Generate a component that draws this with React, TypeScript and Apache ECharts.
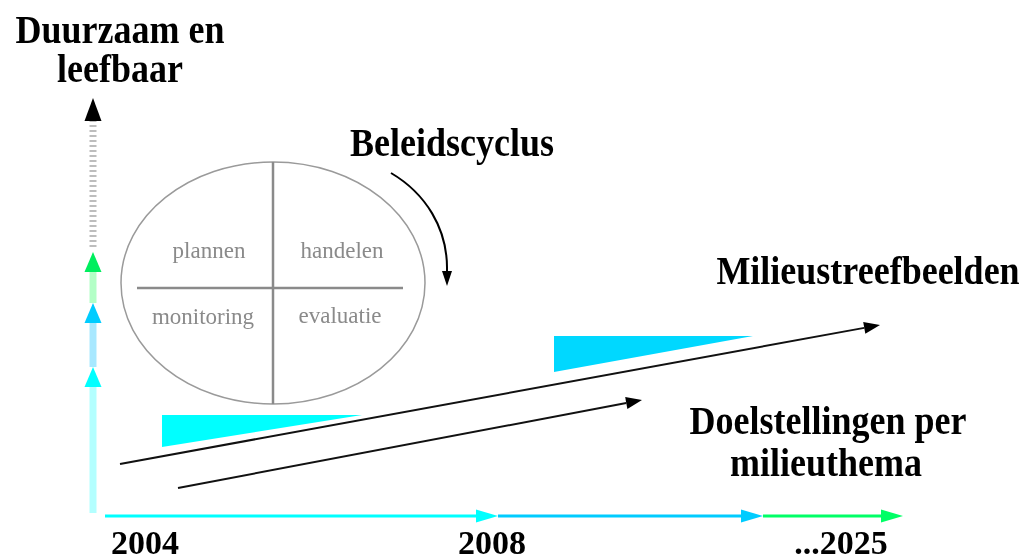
import React, { useEffect, useRef } from "react";
import * as echarts from "echarts";

// Diagram space (x 0..1024, y 0..560, y pointing down)
const xRange = [0, 1024];
const yRange = [0, 560];

// Time axis (horizontal) segments
const timeAxisY = 516;
const timeSegStart = [105, 498, 763];
const timeSegEnd = [498, 763, 903];
const timeSegColor = ["#00ffff", "#00ccff", "#00ff66"];
const timeLabels = ["2004", "2008", "...2025"];
const timeLabelX = [145, 492, 841];
const timeLabelY = 542;

// Vertical axis segments
const vAxisX = 93;
const vSegStart = [513, 367, 303, 247];
const vSegEnd = [367, 303, 252, 98];
const vSegBar = ["#b3ffff", "#a8e8ff", "#b3ffc6", "#bdbdbd"];
const vSegHead = ["#00ffff", "#00ccff", "#00ee5e", "#000000"];

// Trend arrows (Milieustreefbeelden / Doelstellingen)
const trendStart = [[120, 464], [178, 488]];
const trendEnd = [[880, 325], [642, 400]];

// Cyan wedges
const wedgePoints = [
  [[162, 415], [362, 415], [162, 447]],
  [[554, 336], [753, 336], [554, 372]],
];
const wedgeColor = ["#00ffff", "#00d8ff"];

// Policy cycle ellipse
const cycleCenter = [273, 283];
const cycleRadii = [152, 121];
const cycleQuadrants = ["plannen", "handelen", "monitoring", "evaluatie"];
const quadrantPos = [[209, 250], [342, 250], [203, 316], [340, 315]];

// Curved arrow along the cycle
const curvePts = [[391, 173], [425, 193], [448, 228], [447, 271]];
const curveTip = [447, 286];

// Labels
const headLabels = ["Duurzaam en", "leefbaar", "Beleidscyclus", "Milieustreefbeelden", "Doelstellingen per", "milieuthema"];
const headLabelPos = [[120, 29], [120, 68], [452, 142], [868, 270], [828, 420], [826, 462]];

type Arrow = { a: number[]; b: number[]; width: number; color: string; head: string; hl: number; hw: number; dash?: number[] };

const arrows: Arrow[] = [];
vSegStart.forEach((s, i) => {
  arrows.push({ a: [vAxisX, s], b: [vAxisX, vSegEnd[i]], width: 7, color: vSegBar[i], head: vSegHead[i], hl: i === 3 ? 23 : 20, hw: 8.5, dash: i === 3 ? [2, 3] : undefined });
});
timeSegStart.forEach((s, i) => {
  arrows.push({ a: [s, timeAxisY], b: [timeSegEnd[i], timeAxisY], width: 3, color: timeSegColor[i], head: timeSegColor[i], hl: 22, hw: 6.5 });
});
trendStart.forEach((s, i) => {
  arrows.push({ a: s, b: trendEnd[i], width: 2, color: "#111", head: "#000", hl: 16, hw: 6 });
});

export default function App() {
  const ref = useRef<HTMLDivElement>(null);
  useEffect(() => {
    if (!ref.current) return;
    const chart = echarts.init(ref.current, undefined, { renderer: "svg" });
    const serif = '"Liberation Serif", "Times New Roman", serif';

    const textEls: any[] = headLabels.map((t, i) => ({
      type: "text",
      x: headLabelPos[i][0],
      y: headLabelPos[i][1],
      scaleY: 1.12,
      style: { text: t, fill: "#000", font: `bold 36px ${serif}`, align: "center", verticalAlign: "middle" },
      z: 10,
    }));
    timeLabels.forEach((t, i) => {
      textEls.push({
        type: "text",
        x: timeLabelX[i],
        y: timeLabelY,
        style: { text: t, fill: "#000", font: `bold 34px ${serif}`, align: "center", verticalAlign: "middle" },
        z: 10,
      });
    });
    cycleQuadrants.forEach((t, i) => {
      textEls.push({
        type: "text",
        x: quadrantPos[i][0],
        y: quadrantPos[i][1],
        style: { text: t, fill: "#8a8a8a", font: `23px ${serif}`, align: "center", verticalAlign: "middle" },
        z: 10,
      });
    });

    chart.setOption({
      animation: false,
      grid: { left: 0, right: 0, top: 0, bottom: 0 },
      xAxis: { type: "value", min: xRange[0], max: xRange[1], show: false },
      yAxis: { type: "value", min: yRange[0], max: yRange[1], inverse: true, show: false },
      graphic: [
        {
          type: "ellipse",
          shape: { cx: cycleCenter[0], cy: cycleCenter[1], rx: cycleRadii[0], ry: cycleRadii[1] },
          style: { fill: "none", stroke: "#9a9a9a", lineWidth: 1.5 },
        },
        {
          type: "line",
          shape: { x1: cycleCenter[0] - 136, y1: 288, x2: cycleCenter[0] + 130, y2: 288 },
          style: { stroke: "#8a8a8a", lineWidth: 2.5 },
        },
        {
          type: "line",
          shape: { x1: cycleCenter[0], y1: cycleCenter[1] - cycleRadii[1], x2: cycleCenter[0], y2: cycleCenter[1] + cycleRadii[1] },
          style: { stroke: "#8a8a8a", lineWidth: 2.5 },
        },
        ...textEls,
      ],
      series: [
        {
          type: "custom",
          coordinateSystem: "cartesian2d",
          data: wedgePoints.map((p, i) => [p[0][0], p[0][1], i]),
          renderItem: (params: any, api: any) => {
            const i = params.dataIndex;
            const pts = wedgePoints[i].map((p) => api.coord(p));
            return { type: "polygon", shape: { points: pts }, style: { fill: wedgeColor[i] } };
          },
          silent: true,
          z: 1,
        },
        {
          type: "custom",
          coordinateSystem: "cartesian2d",
          data: arrows.map((a, i) => [a.a[0], a.a[1], i]),
          renderItem: (params: any, api: any) => {
            const ar = arrows[params.dataIndex];
            const p1 = api.coord(ar.a);
            const p2 = api.coord(ar.b);
            const dx = p2[0] - p1[0];
            const dy = p2[1] - p1[1];
            const len = Math.hypot(dx, dy);
            const ux = dx / len;
            const uy = dy / len;
            const base = [p2[0] - ux * ar.hl, p2[1] - uy * ar.hl];
            const nx = -uy;
            const ny = ux;
            return {
              type: "group",
              children: [
                {
                  type: "line",
                  shape: { x1: p1[0], y1: p1[1], x2: base[0], y2: base[1] },
                  style: { stroke: ar.color, lineWidth: ar.width, lineDash: ar.dash || null },
                },
                {
                  type: "polygon",
                  shape: { points: [p2, [base[0] + nx * ar.hw, base[1] + ny * ar.hw], [base[0] - nx * ar.hw, base[1] - ny * ar.hw]] },
                  style: { fill: ar.head },
                },
              ],
            };
          },
          silent: true,
          z: 3,
        },
        {
          type: "custom",
          coordinateSystem: "cartesian2d",
          data: [[curvePts[0][0], curvePts[0][1]]],
          renderItem: (params: any, api: any) => {
            const c = curvePts.map((p) => api.coord(p));
            const tip = api.coord(curveTip);
            const end = c[3];
            return {
              type: "group",
              children: [
                {
                  type: "bezierCurve",
                  shape: { x1: c[0][0], y1: c[0][1], cpx1: c[1][0], cpy1: c[1][1], cpx2: c[2][0], cpy2: c[2][1], x2: end[0], y2: end[1] },
                  style: { stroke: "#000", lineWidth: 2, fill: "none" },
                },
                {
                  type: "polygon",
                  shape: { points: [tip, [end[0] - 5, end[1]], [end[0] + 5, end[1]]] },
                  style: { fill: "#000" },
                },
              ],
            };
          },
          silent: true,
          z: 3,
        },
      ],
    });
    return () => chart.dispose();
  }, []);
  return <div ref={ref} style={{ position: "fixed", left: 0, top: 0, width: 1024, height: 560 }} />;
}
